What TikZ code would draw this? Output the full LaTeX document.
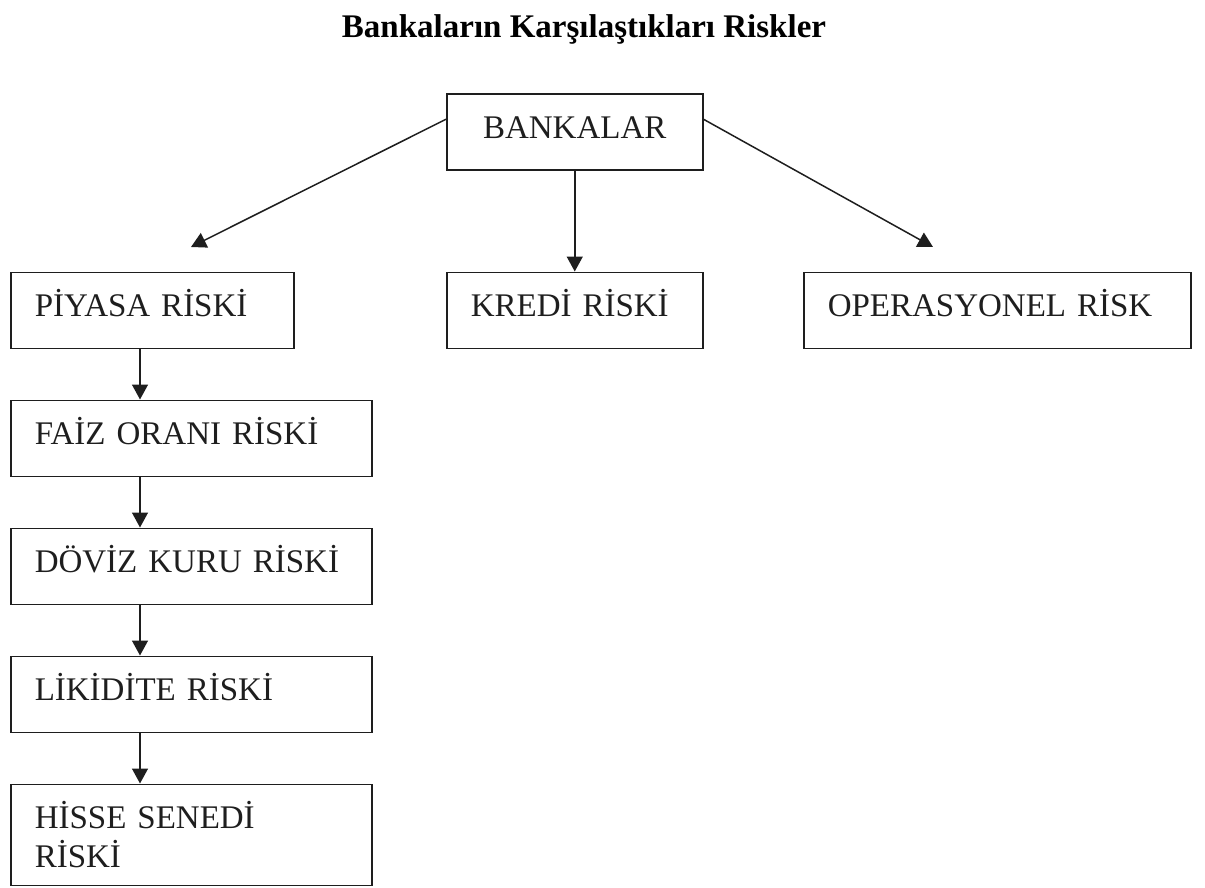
\documentclass[tikz,border=0pt]{standalone}
\usepackage{fontspec}
\setmainfont{Liberation Serif}
\usetikzlibrary{arrows.meta, positioning}
\definecolor{linegray}{RGB}{30,30,30}
\tikzset{
  box/.style={
    rectangle, draw=linegray, line width=1.5pt, anchor=north west,
    inner xsep=24pt, inner ysep=0pt, align=left,
    text height=44pt, text depth=32pt, text=linegray,
    font=\fontsize{33}{39}\selectfont
  },
  arr/.style={-{Triangle[length=15pt, width=16pt]}, line width=1.5pt, draw=linegray},
  ttl/.style={font=\fontsize{33}{38}\selectfont\bfseries, anchor=base}
}
\begin{document}
\begin{tikzpicture}[x=1pt, y=-1pt, node distance=50.5pt]
  \useasboundingbox (0,0) rectangle (1205,888);

  %% ── başlık ───────────────────────────────────────────
  \node[ttl] (title) at (584,38) {Bankaların Karşılaştıkları Riskler};

  %% ── üst düzey ────────────────────────────────────────
  \node[box, text width=208pt, align=center] (bank) at (446,93.5) {BANKALAR};
  \node[box, text width=235pt] (pya)   at (10,271.5)  {PİYASA RİSKİ};
  \node[box, text width=208pt] (kredi) at (446,271.5) {KREDİ RİSKİ};
  \node[box, text width=339pt] (oper)  at (803,271.5) {OPERASYONEL RİSK};

  \coordinate (lt) at (191,247);
  \coordinate (rt) at (933,247);
  \draw[arr] ([yshift=13pt]bank.west) -- (lt);
  \draw[arr] (bank.south) -- (kredi.north);
  \draw[arr] ([yshift=13pt]bank.east) -- (rt);

  %% ── piyasa riski alt kalemleri ───────────────────────
  \node[box, text width=313pt, below=of pya.south west, anchor=north west]   (faiz)  {FAİZ ORANI RİSKİ};
  \node[box, text width=313pt, below=of faiz.south west, anchor=north west]  (doviz) {DÖVİZ KURU RİSKİ};
  \node[box, text width=313pt, below=of doviz.south west, anchor=north west] (likid) {LİKİDİTE RİSKİ};
  \node[box, text width=313pt, text depth=57pt, below=of likid.south west, anchor=north west] (hisse) {HİSSE SENEDİ\\RİSKİ};

  \foreach \a/\b in {pya/faiz, faiz/doviz, doviz/likid, likid/hisse}
    \draw[arr] ([xshift=130pt]\a.south west) -- ([xshift=130pt]\b.north west);

\end{tikzpicture}
\end{document}
